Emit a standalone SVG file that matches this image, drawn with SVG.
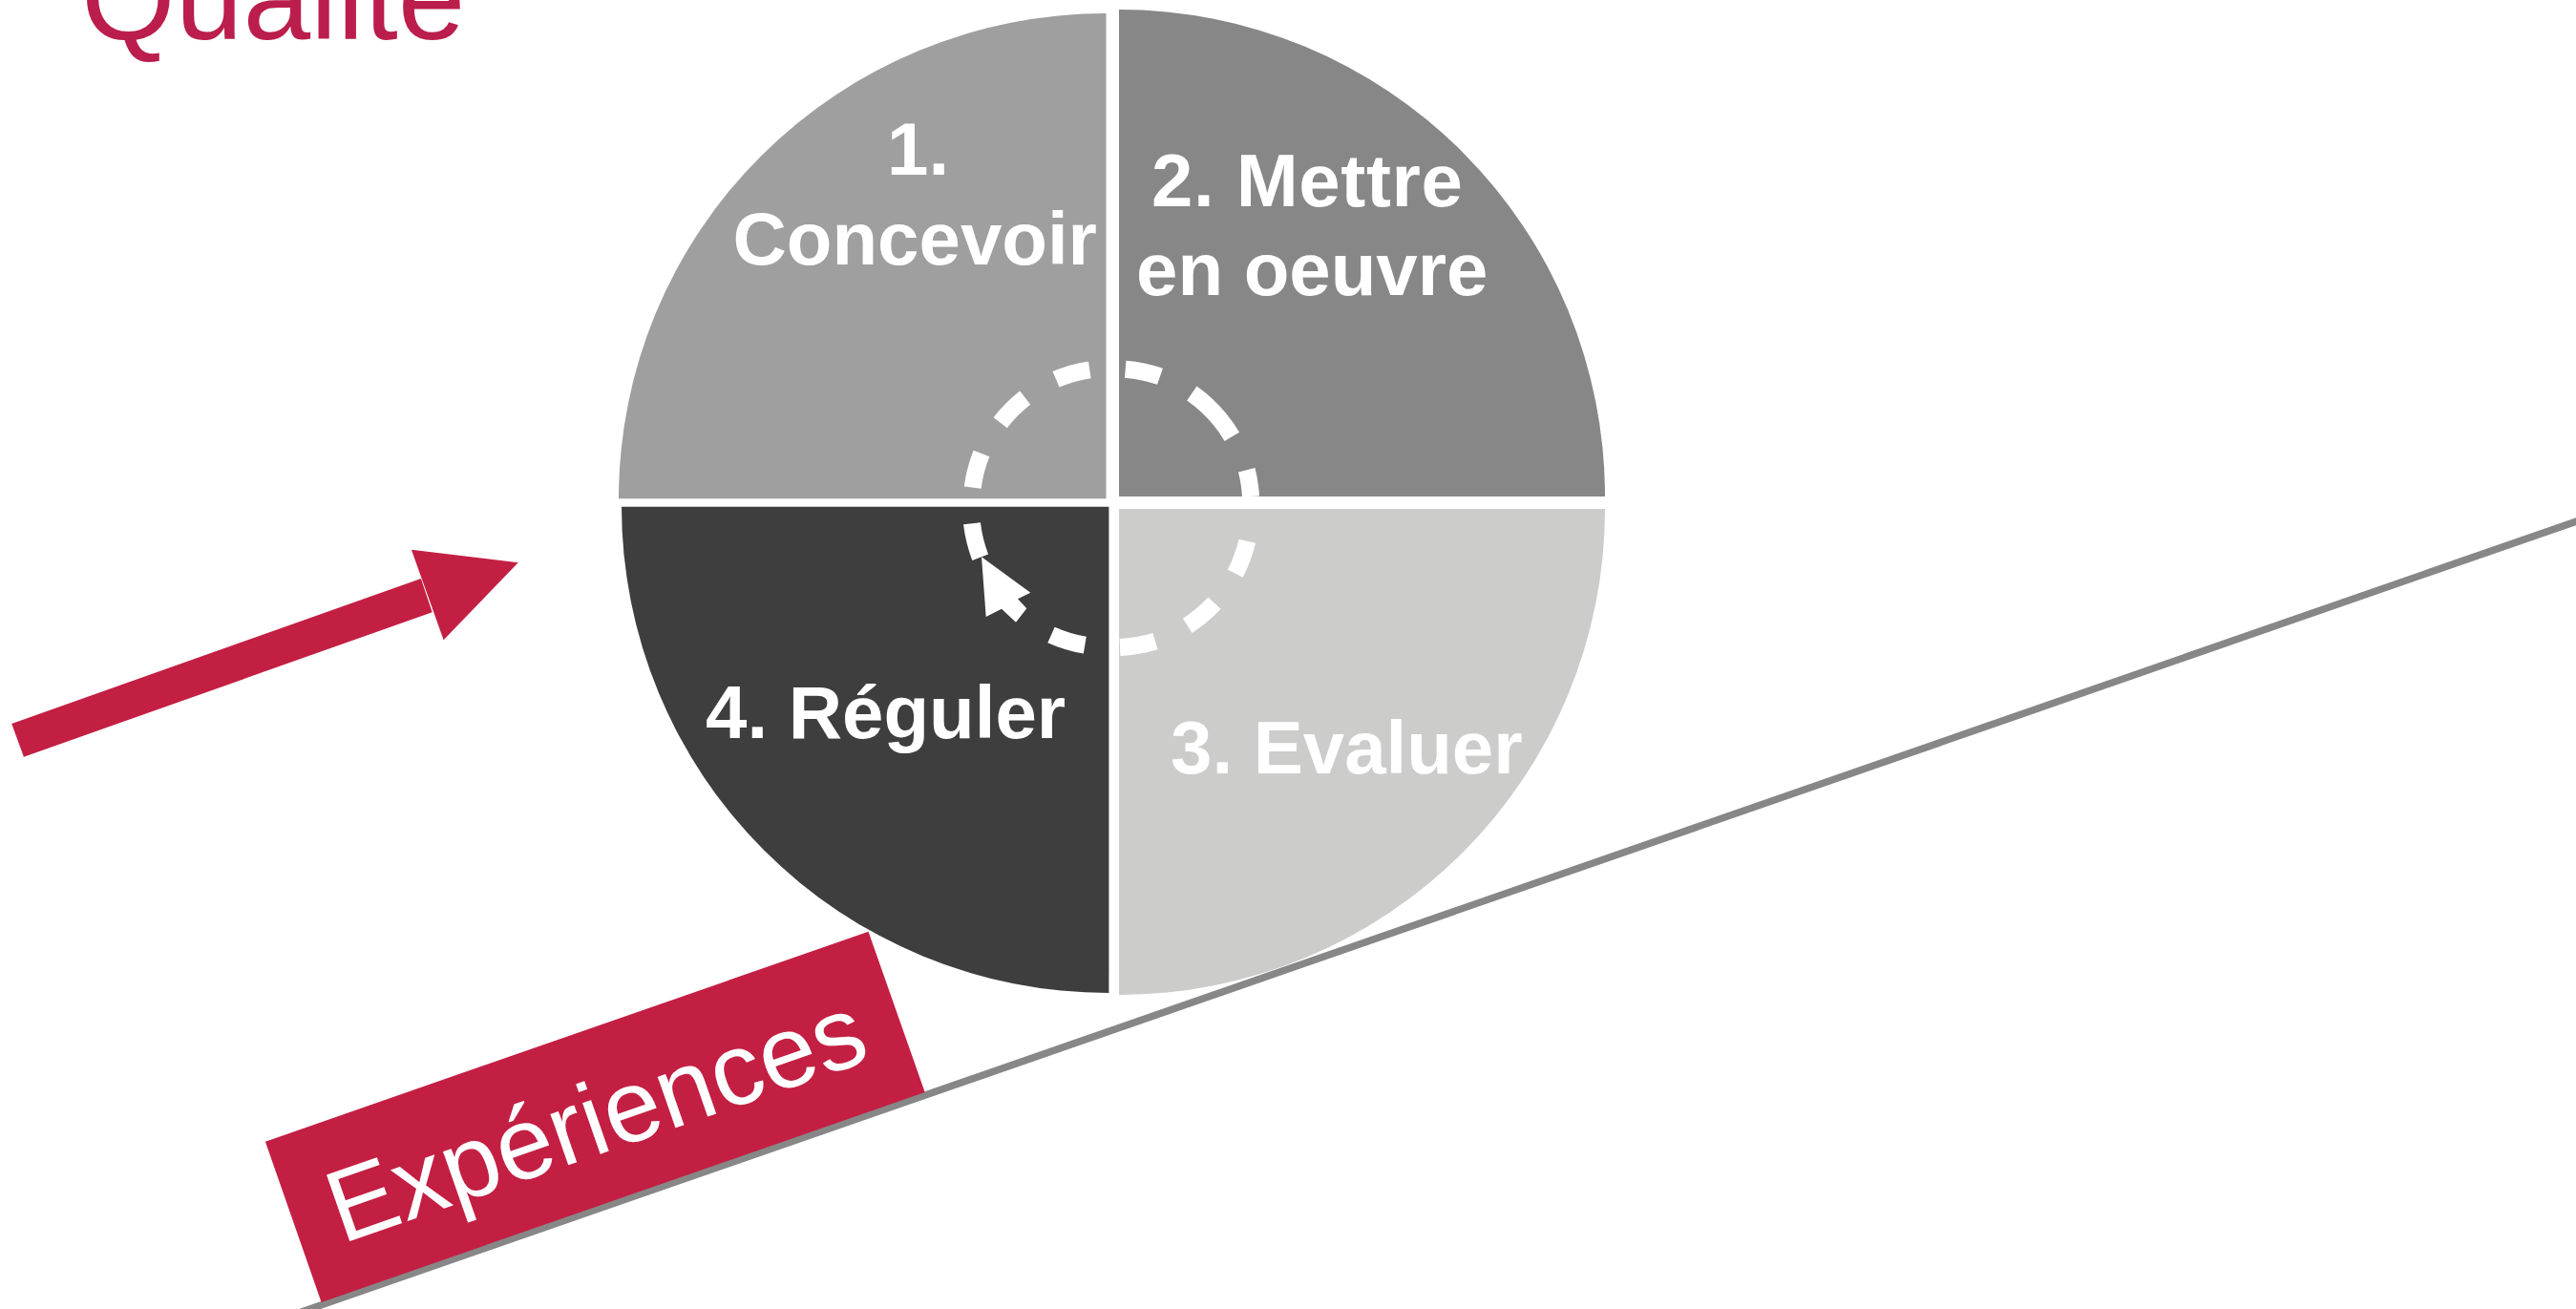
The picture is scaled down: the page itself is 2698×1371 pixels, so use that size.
<svg xmlns="http://www.w3.org/2000/svg" width="2698" height="1371" viewBox="0 0 2698 1371">
<style>
text{font-family:"Liberation Sans",Arial,sans-serif}
.lbl{font-size:78px;font-weight:700;fill:#fff}
.d{fill:none;stroke:#fff;stroke-width:18}
.red{fill:#c31f43}
</style>
<rect width="2698" height="1371" fill="#fff"/>
<text id="title" x="85" y="41" font-size="127" fill="#bb1e4c">Qualité</text>
<g id="connectors">
<line x1="300" y1="1379.5" x2="2710" y2="542" stroke="#878787" stroke-width="7.5"/>
<g id="red-arrow"><polygon class="red" points="12.2,758 440.9,606 452.7,641.3 24.9,792.7"/><polygon class="red" points="430.9,575.7 542.7,589.3 464.6,670.3"/></g>
</g>
<g id="q1"><path d="M1158.5 522.3H648A510.5 508.3 0 0 1 1158.5 14Z" fill="#9f9f9f"/><text class="lbl" x="929" y="183">1.</text><text class="lbl" x="767.500" y="277">Concevoir</text></g>
<g id="q2"><path d="M1172 520H1681A509 510 0 0 0 1172 10Z" fill="#878787"/><text class="lbl" x="1206" y="216" textLength="326">2. Mettre</text><text class="lbl" x="1190" y="309">en oeuvre</text></g>
<g id="q3"><path d="M1172 533H1681A509 509 0 0 1 1172 1042Z" fill="#cccccb"/><text class="lbl" x="1226" y="810">3. Evaluer</text></g>
<g id="q4"><path d="M1161.4 530.7H651A510.4 509.3 0 0 0 1161.4 1040Z" fill="#3e3e3e"/><text class="lbl" x="739" y="773">4. Réguler</text></g>
<g id="cycle">
<path class="d" d="M1018.7 510.7A146 146 0 0 1 1028 475"/>
<path class="d" d="M1047.7 442.7A146 146 0 0 1 1073.7 416.7"/>
<path class="d" d="M1106 397.3A146 146 0 0 1 1141.3 387.3"/>
<path class="d" d="M1178.7 386.7A146 146 0 0 1 1215 394.3"/>
<path class="d" d="M1248.3 412A146 146 0 0 1 1290.3 457.3"/>
<path class="d" d="M1305.7 492.3A146 146 0 0 1 1310 520"/>
<path class="d" d="M1306.3 566.7A146 146 0 0 1 1293.7 600.7"/>
<path class="d" d="M1272 631.7A146 146 0 0 1 1243.7 655.3"/>
<path class="d" d="M1210 671.7A146 146 0 0 1 1173 678"/>
<path class="d" d="M1136.3 675.7A146 146 0 0 1 1101 665"/>
<path class="d" d="M1026.7 583.7A146 146 0 0 1 1018 548.3"/>
<polygon fill="#fff" points="1028,583.3 1079.3,620.7 1066,627.3 1075.3,637.3 1064,651.7 1049,637.7 1032.7,646"/>
</g>
<g id="banner"><polygon class="red" points="277.9,1195.7 909.5,975.7 968.7,1144 336.6,1364"/><text transform="translate(358 1303) rotate(-19.2)" font-size="107" fill="#fff">Expériences</text></g>
</svg>
